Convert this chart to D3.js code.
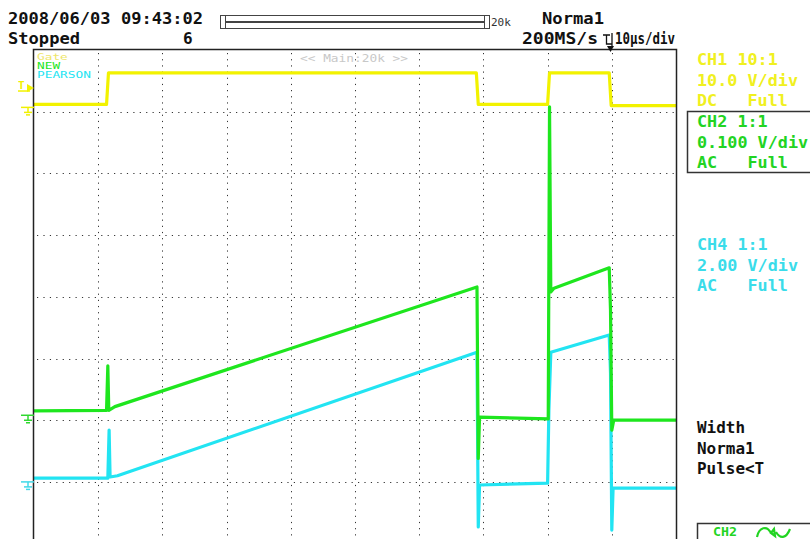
<!DOCTYPE html>
<html>
<head>
<meta charset="utf-8">
<script src="https://cdn.jsdelivr.net/npm/d3@7"></script>
<style>
  body { margin: 0; background: #fff; }
  svg text { font-family: "DejaVu Sans Mono", "Liberation Mono", monospace; }
</style>
</head>
<body>
<div id="scope"></div>
<script>
// Time axis in microseconds (10 us/div, 10 divisions), vertical in divisions from centre
const timeTicks = [0, 10, 20, 30, 40, 50, 60, 70, 80, 90, 100];
const divTicks = [4, 3, 2, 1, 0, -1, -2, -3, -4];

// Trace breakpoints: [time us, divisions]
const gateTrace = [
    [0, 3.12], [11.3, 3.12], [11.6, 3.63], [68.9, 3.63], [69.2, 3.12],
    [80.0, 3.12], [80.3, 3.63], [89.6, 3.63], [89.9, 3.1], [100, 3.1]
];
const newTrace = [
    [0, -1.85], [11.3, -1.84], [11.5, -1.12], [11.65, -1.84], [12.6, -1.78],
    [69.0, 0.16], [69.2, -2.62], [69.4, -1.95], [80.1, -1.98], [80.3, 3.08],
    [80.5, 0.08], [81.0, 0.14], [89.6, 0.47], [89.8, -0.22], [90.0, -2.16],
    [90.3, -2.0], [100, -2.0]
];
const pearsonTrace = [
    [0, -2.94], [11.5, -2.94], [11.7, -2.16], [11.85, -2.92], [13.0, -2.9],
    [69.0, -0.9], [69.2, -3.73], [69.4, -3.05], [80.0, -3.02], [80.2, -1.84],
    [80.5, -0.9], [89.6, -0.62], [89.8, -1.24], [90.0, -3.78], [90.2, -3.1],
    [100, -3.1]
];

// Ground / level markers on the left edge (divisions)
const groundLevels = [
    { name: 'CH1', level: 3.07, color: '#f0f000' },
    { name: 'CH2', level: -1.92, color: '#30d830' },
    { name: 'CH4', level: -3.0, color: '#40d8e8' }
];

const legendNames = ['Gate', 'NEW', 'PEARSON'];
const ch1Lines = ['CH1 10:1', '10.0 V/div', 'DC   Full'];
const ch2Lines = ['CH2 1:1', '0.100 V/div', 'AC   Full'];
const ch4Lines = ['CH4 1:1', '2.00 V/div', 'AC   Full'];
const trigLines = ['Width', 'Norma1', 'Pulse<T'];

const YELLOW = '#f2f200';
const GREEN = '#1ee61e';
const CYAN = '#22e4f2';

const svg = d3.select('#scope')
    .append('svg')
    .attr('width', 810)
    .attr('height', 539);

// Plot area
const plot = { left: 34, right: 676, top: 50, bottom: 543.6 };

const xScale = d3.scaleLinear()
    .domain([0, 100])
    .range([plot.left, plot.right]);

const yScale = d3.scaleLinear()
    .domain([4, -4])
    .range([plot.top, plot.bottom]);

// Dotted grid
const grid = svg.append('g').attr('class', 'grid');
grid.selectAll('.vgrid')
    .data(timeTicks.slice(1, -1))
    .join('line')
    .attr('x1', d => Math.round(xScale(d)) + 0.5)
    .attr('x2', d => Math.round(xScale(d)) + 0.5)
    .attr('y1', plot.top + 3)
    .attr('y2', plot.bottom)
    .attr('stroke', '#333')
    .attr('stroke-width', 1)
    .attr('stroke-dasharray', '1.2,4.97');

grid.selectAll('.hgrid')
    .data(divTicks.slice(1, -1))
    .join('line')
    .attr('x1', plot.left + 3)
    .attr('x2', plot.right)
    .attr('y1', d => Math.round(yScale(d)) + 0.5)
    .attr('y2', d => Math.round(yScale(d)) + 0.5)
    .attr('stroke', '#333')
    .attr('stroke-width', 1)
    .attr('stroke-dasharray', '1.2,5.22');

// Traces
const line = d3.line()
    .x(d => xScale(d[0]))
    .y(d => yScale(d[1]));

const traces = [
    { data: gateTrace, color: YELLOW },
    { data: pearsonTrace, color: CYAN },
    { data: newTrace, color: GREEN }
];

svg.append('g').attr('class', 'traces')
    .selectAll('path')
    .data(traces)
    .join('path')
    .attr('d', d => line(d.data))
    .attr('fill', 'none')
    .attr('stroke', d => d.color)
    .attr('stroke-width', 3.2)
    .attr('stroke-linejoin', 'round');

// Frame
svg.append('rect')
    .attr('x', plot.left - 0.5)
    .attr('y', plot.top - 0.5)
    .attr('width', plot.right - plot.left + 1)
    .attr('height', plot.bottom - plot.top)
    .attr('fill', 'none')
    .attr('stroke', '#222')
    .attr('stroke-width', 1.5);

// Legend in top-left corner of the screen
svg.append('g').selectAll('text')
    .data(legendNames)
    .join('text')
    .attr('x', 37)
    .attr('y', (d, i) => 60 + i * 9)
    .attr('fill', (d, i) => [ '#eee66a', GREEN, CYAN ][i])
    .attr('font-size', 9)
    .attr('textLength', d => d.length * 7.7)
    .attr('lengthAdjust', 'spacingAndGlyphs')
    .text(d => d);

// "<< Main:20k >>"
svg.append('text')
    .attr('x', 300)
    .attr('y', 62)
    .attr('fill', '#c8c8c8')
    .attr('font-size', 10)
    .attr('textLength', 108)
    .attr('lengthAdjust', 'spacingAndGlyphs')
    .text('<< Main:20k >>');

// Ground markers on the left
const gm = svg.append('g').attr('class', 'ground');
groundLevels.forEach(g => {
    const y = yScale(g.level);
    const m = gm.append('g').attr('stroke', g.color).attr('fill', 'none').attr('stroke-width', 1.5);
    m.append('line').attr('x1', 21).attr('x2', 34).attr('y1', y).attr('y2', y);
    m.append('line').attr('x1', 28).attr('x2', 28).attr('y1', y).attr('y2', y + 5);
    m.append('line').attr('x1', 24).attr('x2', 32).attr('y1', y + 5).attr('y2', y + 5);
    m.append('line').attr('x1', 26).attr('x2', 30).attr('y1', y + 7.5).attr('y2', y + 7.5);
});

// CH1 trigger level marker "T>"
const trigY = yScale(3.4);
svg.append('text')
    .attr('x', 18).attr('y', trigY + 2)
    .attr('fill', YELLOW).attr('font-size', 11).attr('font-weight', 'bold')
    .text('T');
svg.append('line')
    .attr('x1', 18).attr('x2', 30).attr('y1', trigY + 4).attr('y2', trigY + 4)
    .attr('stroke', YELLOW).attr('stroke-width', 1.5);
svg.append('path')
    .attr('d', `M27,${trigY - 3} L34,${trigY + 1} L27,${trigY + 5} Z`)
    .attr('fill', YELLOW);

// Header texts
const header = svg.append('g').attr('fill', '#111').attr('font-weight', 'bold');
header.append('text').attr('x', 8).attr('y', 24).attr('font-size', 16)
    .attr('textLength', 195).attr('lengthAdjust', 'spacingAndGlyphs')
    .text('2008/06/03 09:43:02');
header.append('text').attr('x', 8).attr('y', 44).attr('font-size', 16)
    .attr('textLength', 72).attr('lengthAdjust', 'spacingAndGlyphs')
    .text('Stopped');
header.append('text').attr('x', 183).attr('y', 44).attr('font-size', 16)
    .text('6');
header.append('text').attr('x', 542).attr('y', 24).attr('font-size', 16)
    .attr('textLength', 62).attr('lengthAdjust', 'spacingAndGlyphs')
    .text('Norma1');
header.append('text').attr('x', 522).attr('y', 44).attr('font-size', 16)
    .attr('textLength', 76).attr('lengthAdjust', 'spacingAndGlyphs')
    .text('200MS/s');
header.append('text').attr('x', 615).attr('y', 44).attr('font-size', 16)
    .attr('textLength', 60).attr('lengthAdjust', 'spacingAndGlyphs')
    .text('10μs/div');

// Trigger symbol next to the sample rate
const ts = svg.append('g').attr('stroke', '#111').attr('stroke-width', 1.3).attr('fill', 'none');
ts.append('path').attr('d', 'M603,35 L610,35 M606.5,35 L606.5,44 L612,44 M612,33 L612,46');
svg.append('path').attr('d', 'M607,46 L614,46 L610.5,52 Z').attr('fill', '#111');

// Record-length bar
const bar = svg.append('g').attr('fill', 'none').attr('stroke', '#444').attr('stroke-width', 1);
bar.append('rect').attr('x', 220.5).attr('y', 15.5).attr('width', 5).attr('height', 13);
bar.append('rect').attr('x', 484.5).attr('y', 15.5).attr('width', 5).attr('height', 13);
bar.append('rect').attr('x', 225.5).attr('y', 15.5).attr('width', 259).attr('height', 6);
bar.append('rect').attr('x', 225.5).attr('y', 22.5).attr('width', 259).attr('height', 6);
svg.append('text').attr('x', 491).attr('y', 26).attr('font-size', 11).attr('fill', '#333')
    .text('20k');

// Right side channel panels
function panel(lines, x, y0, color) {
    svg.append('g').selectAll('text')
        .data(lines)
        .join('text')
        .attr('x', x)
        .attr('y', (d, i) => y0 + i * 20.5)
        .attr('fill', color)
        .attr('font-size', 16.5)
        .attr('font-weight', 'bold')
        .attr('xml:space', 'preserve')
        .attr('textLength', d => d.length * 10.1)
        .attr('lengthAdjust', 'spacingAndGlyphs')
        .text(d => d);
}
panel(ch1Lines, 697, 65, '#f0f020');
svg.append('rect').attr('x', 687.5).attr('y', 111.5).attr('width', 130).attr('height', 61)
    .attr('fill', 'none').attr('stroke', '#333').attr('stroke-width', 1.5);
panel(ch2Lines, 697, 127, '#22d422');
panel(ch4Lines, 697, 250, '#3adcea');

svg.append('g').selectAll('text')
    .data(trigLines)
    .join('text')
    .attr('x', 697)
    .attr('y', (d, i) => 433 + i * 20.5)
    .attr('fill', '#111')
    .attr('font-size', 16)
    .attr('font-weight', 'bold')
    .attr('textLength', d => d.length * 9.6)
    .attr('lengthAdjust', 'spacingAndGlyphs')
    .text(d => d);

// Trigger source box at the bottom right
svg.append('rect').attr('x', 697.5).attr('y', 523.5).attr('width', 120).attr('height', 30)
    .attr('fill', 'none').attr('stroke', '#333').attr('stroke-width', 1.5);
svg.append('text').attr('x', 713).attr('y', 535.5).attr('font-size', 13).attr('font-weight', 'bold')
    .attr('textLength', 24).attr('lengthAdjust', 'spacingAndGlyphs')
    .attr('fill', '#22d422').text('CH2');
svg.append('path')
    .attr('d', 'M757,537 C759,527 767,525 771,533 M771,533 L774,529 L775,536 Z M776,532 C780,539 786,539 790,529')
    .attr('fill', 'none').attr('stroke', '#22d422').attr('stroke-width', 2.2);
</script>
</body>
</html>
